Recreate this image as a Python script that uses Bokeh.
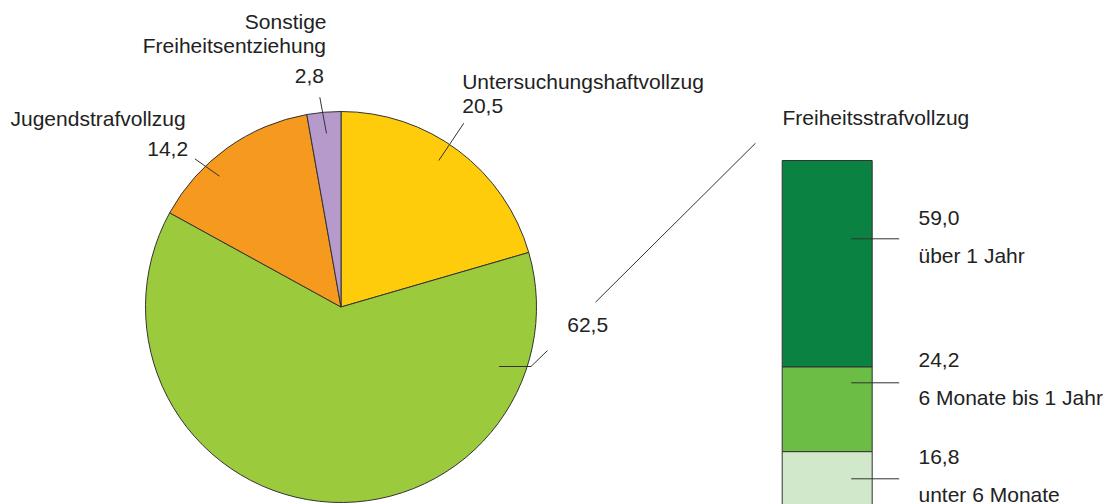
import math
from bokeh.plotting import figure
from bokeh.models import Range1d
from bokeh.core.properties import value
from bokeh.embed import file_html
from bokeh.resources import INLINE

# ---- data ----
pie_names = ["Untersuchungshaftvollzug", "Freiheitsstrafvollzug", "Jugendstrafvollzug", "Sonstige Freiheitsentziehung"]
pie_values = [20.5, 62.5, 14.2, 2.8]
pie_colors = ["#FECC0A", "#9BCB3C", "#F6991F", "#B59ACB"]

bar_title = "Freiheitsstrafvollzug"
bar_names = ["über 1 Jahr", "6 Monate bis 1 Jahr", "unter 6 Monate"]
bar_values = [59.0, 24.2, 16.8]
bar_colors = ["#0A8241", "#6BBD45", "#D2E8CA"]

W, H = 1116, 504
FONT = value("Liberation Sans")
FS = "21px"
TC = "#222222"
TEXT_SHIFT = 8  # svg baseline correction


def X(xs):
    return xs


def Y(ys):
    return H - ys


def fmt(v):
    return f"{v:.1f}".replace(".", ",")


p = figure(width=W, height=H, output_backend="svg", toolbar_location=None,
           x_range=Range1d(0, W), y_range=Range1d(0, H), min_border=0)
p.axis.visible = False
p.grid.visible = False
p.outline_line_color = None

# ---- pie ----
cx, cy, r = X(340.5), Y(306.5), 195.5
total = sum(pie_values)
ang = math.pi / 2
starts, ends = [], []
for v in pie_values:
    a2 = ang - v / total * 2 * math.pi
    starts.append(a2)
    ends.append(ang)
    ang = a2
p.wedge(x=[cx] * len(pie_values), y=[cy] * len(pie_values), radius=r,
        start_angle=starts, end_angle=ends, fill_color=pie_colors,
        line_color="#333333", line_width=1)

# ---- stacked bar ----
bx0, bx1 = X(781.7), X(871.7)
btop = Y(160)
scale = 3.5  # px per percent
tops, bottoms = [], []
cur = btop
for v in bar_values:
    tops.append(cur)
    cur = cur - v * scale
    bottoms.append(cur)
p.quad(left=[bx0] * 3, right=[bx1] * 3, top=tops, bottom=bottoms,
       fill_color=bar_colors, line_color="#333333", line_width=1)

# ---- leader lines (screen coords) ----
leaders = [
    [(326, 133), (319.3, 96.7)],
    [(219, 175.7), (194.3, 158.3)],
    [(438.3, 160), (463.3, 122.7)],
    [(498.5, 366), (530.5, 366), (547, 350)],
    [(595, 301.7), (755, 142.7)],
    [(850.7, 238.3), (898.7, 238.3)],
    [(850.7, 382.3), (898.7, 382.3)],
    [(850.7, 478.3), (898.7, 478.3)],
]
p.multi_line(xs=[[X(a) for a, b in L] for L in leaders],
             ys=[[Y(b) for a, b in L] for L in leaders],
             line_color="#333333", line_width=1)

# ---- texts ----
texts = [
    # (text, x, baseline y, align)
    ("Sonstige", 326, 29.3, "right"),
    ("Freiheitsentziehung", 325.5, 53.3, "right"),
    (fmt(pie_values[3]), 323.5, 83.3, "right"),
    (pie_names[2], 10, 126, "left"),
    (fmt(pie_values[2]), 146.7, 156.7, "left"),
    (pie_names[0], 461.7, 89.3, "left"),
    (fmt(pie_values[0]), 461.7, 113.3, "left"),
    (fmt(pie_values[1]), 566.7, 332.7, "left"),
    (bar_title, 782, 125, "left"),
    (fmt(bar_values[0]), 918, 225, "left"),
    (bar_names[0], 918, 263.3, "left"),
    (fmt(bar_values[1]), 918, 367.7, "left"),
    (bar_names[1], 918, 405, "left"),
    (fmt(bar_values[2]), 918, 464, "left"),
    (bar_names[2], 918, 501.7, "left"),
]
for t, x, y, al in texts:
    p.text(x=[X(x)], y=[Y(y - TEXT_SHIFT)], text=[t], text_align=al, text_baseline="alphabetic",
           text_font=FONT, text_font_size=FS, text_color=TC)

open("out.html", "w").write(file_html(p, INLINE))
